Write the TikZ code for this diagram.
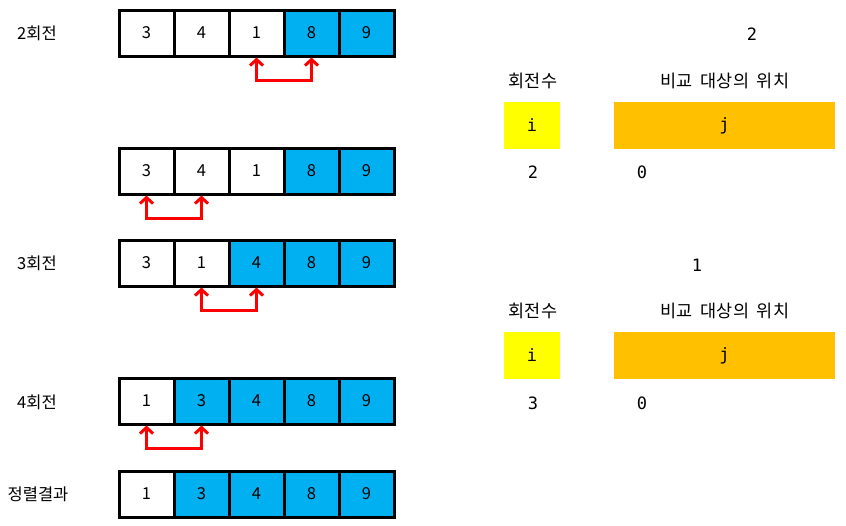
\documentclass[tikz,border=0pt]{standalone}
\usepackage{fontspec}
\setmainfont{Noto Sans CJK KR}
\newfontfamily\monofnt{DejaVu Sans Mono}
\usetikzlibrary{arrows.meta}
\definecolor{cellblue}{HTML}{00B0F0}
\definecolor{ivar}{HTML}{FFFF00}
\definecolor{jvar}{HTML}{FFC000}
\begin{document}
\begin{tikzpicture}[x=1pt,y=-1pt,
  cell/.style={draw=black,line width=3pt,minimum width=55pt,minimum height=46pt,inner sep=0pt,font=\fontsize{16.5}{16.5}\selectfont},
  done/.style={cell,fill=cellblue},
  swaparrow/.style={red,line width=3pt,{Straight Barb[length=6pt,width=13pt]}-{Straight Barb[length=6pt,width=13pt]}},
  lbl/.style={font=\fontsize{16.5}{16.5}\selectfont,inner sep=0pt},
  hdr/.style={font=\fontsize{17.5}{17.5}\selectfont,inner sep=0pt},
  monotext/.style={font=\monofnt\fontsize{17}{17}\selectfont,inner sep=0pt},
  varbox/.style={minimum height=47pt,inner sep=0pt,font=\monofnt\fontsize{17}{17}\selectfont},
]
\useasboundingbox (0,0) rectangle (846,525);
% row labels
\node[lbl] (l1) at (37,33) {2회전};
\node[lbl] (l3) at (37,263) {3회전};
\node[lbl] (l4) at (37,402) {4회전};
\node[lbl] (l5) at (38,494) {정렬결과};
% row 1
\node[cell] (r1c1) at (146.5,33) {3};
\node[cell] (r1c2) at (201.5,33) {4};
\node[cell] (r1c3) at (256.5,33) {1};
\node[done] (r1c4) at (311.5,33) {8};
\node[done] (r1c5) at (366.5,33) {9};
% row 2
\node[cell] (r2c1) at (146.5,171) {3};
\node[cell] (r2c2) at (201.5,171) {4};
\node[cell] (r2c3) at (256.5,171) {1};
\node[done] (r2c4) at (311.5,171) {8};
\node[done] (r2c5) at (366.5,171) {9};
% row 3
\node[cell] (r3c1) at (146.5,263) {3};
\node[cell] (r3c2) at (201.5,263) {1};
\node[done] (r3c3) at (256.5,263) {4};
\node[done] (r3c4) at (311.5,263) {8};
\node[done] (r3c5) at (366.5,263) {9};
% row 4
\node[cell] (r4c1) at (146.5,401) {1};
\node[done] (r4c2) at (201.5,401) {3};
\node[done] (r4c3) at (256.5,401) {4};
\node[done] (r4c4) at (311.5,401) {8};
\node[done] (r4c5) at (366.5,401) {9};
% row 5
\node[cell] (r5c1) at (146.5,494) {1};
\node[done] (r5c2) at (201.5,494) {3};
\node[done] (r5c3) at (256.5,494) {4};
\node[done] (r5c4) at (311.5,494) {8};
\node[done] (r5c5) at (366.5,494) {9};
% swap arrows
\draw[swaparrow] (r1c3.south) -- ++(0,23) -| (r1c4.south);
\draw[swaparrow] (r2c1.south) -- ++(0,23) -| (r2c2.south);
\draw[swaparrow] (r3c2.south) -- ++(0,23) -| (r3c3.south);
\draw[swaparrow] (r4c1.south) -- ++(0,23) -| (r4c2.south);
% right panel 1
\node[monotext] (n1) at (752,34) {2};
\node[hdr] (h1a) at (533,81) {회전수};
\node[hdr] (h1b) at (725,81) {비교\ \ 대상의\ \ 위치};
\node[varbox,fill=ivar,minimum width=56pt] (i1) at (532,125.5) {i};
\node[varbox,fill=jvar,minimum width=221pt] (j1) at (724.5,125.5) {j};
\node[monotext] (iv1) at (533,172) {2};
\node[monotext] (jv1) at (642,172) {0};
% right panel 2
\node[monotext] (n2) at (697,265) {1};
\node[hdr] (h2a) at (533,311) {회전수};
\node[hdr] (h2b) at (725,311) {비교\ \ 대상의\ \ 위치};
\node[varbox,fill=ivar,minimum width=56pt] (i2) at (532,355.5) {i};
\node[varbox,fill=jvar,minimum width=221pt] (j2) at (724.5,355.5) {j};
\node[monotext] (iv2) at (533,403) {3};
\node[monotext] (jv2) at (642,403) {0};
\end{tikzpicture}
\end{document}
